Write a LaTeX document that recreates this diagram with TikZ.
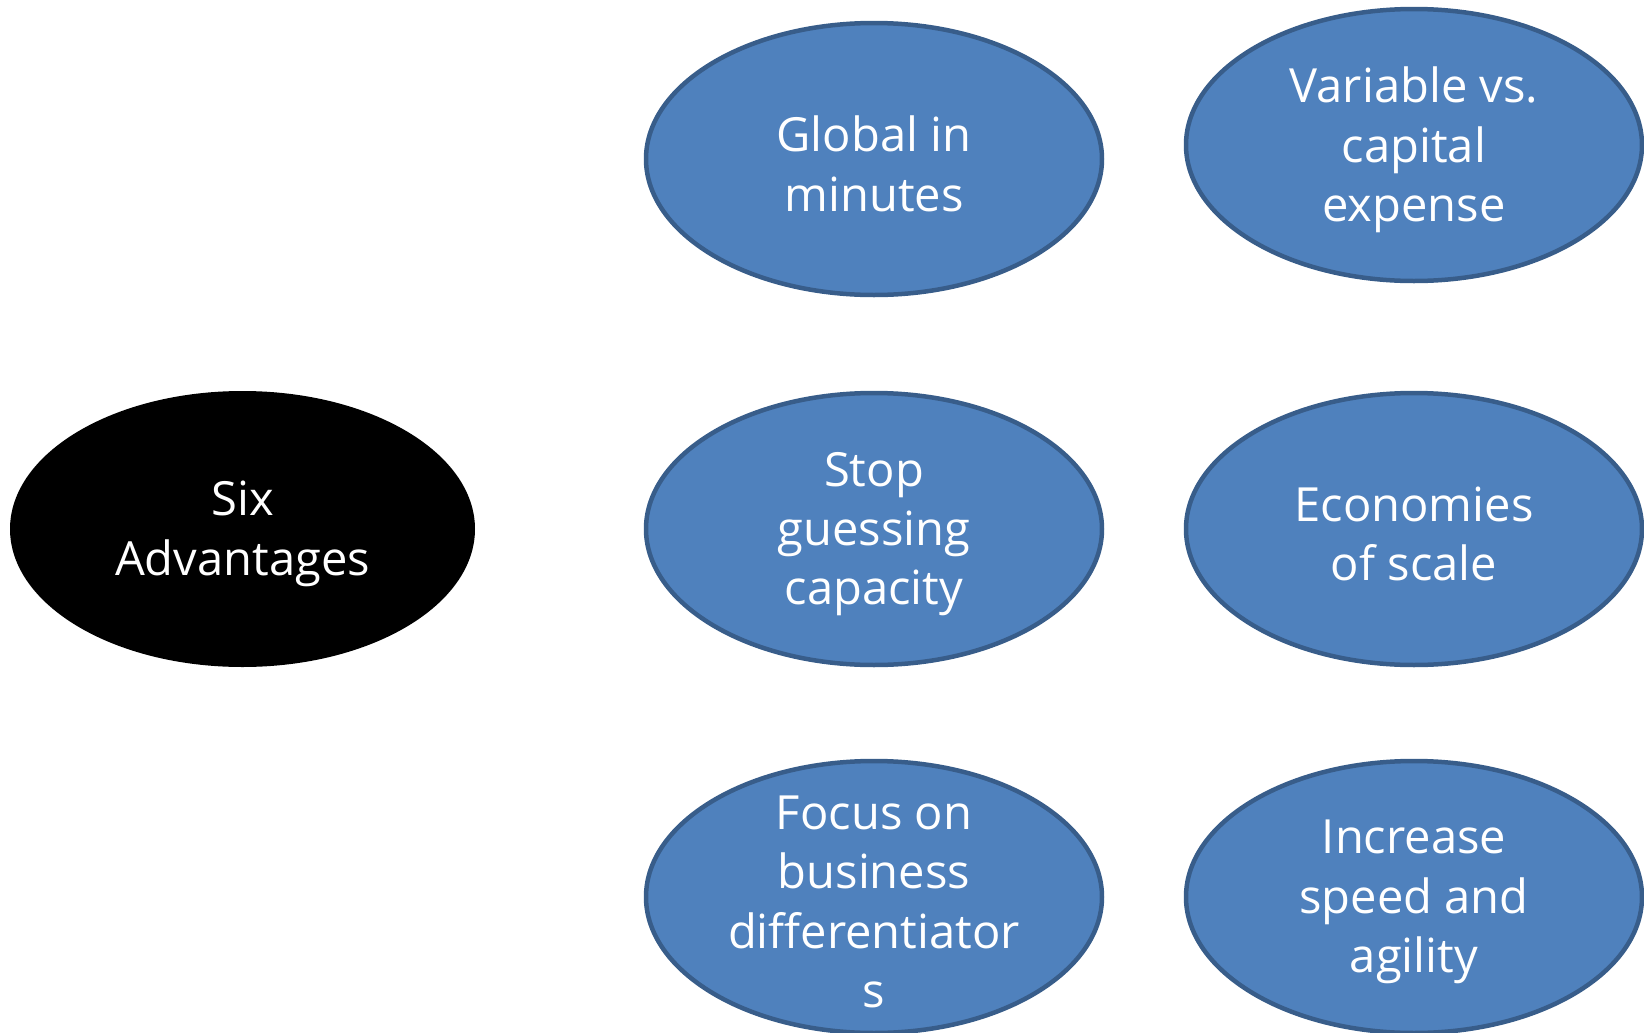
\documentclass[tikz,border=0pt]{standalone}
\usepackage{fontspec}
\setmainfont{Open Sans}
\usepackage{xcolor}
\usetikzlibrary{shapes.geometric}

\definecolor{bubblefill}{HTML}{4F81BD}
\definecolor{bubbleline}{HTML}{385D8A}

\tikzset{
  bubble/.style={ellipse, draw=bubbleline, line width=0.45mm, fill=bubblefill,
                 minimum width=4.56cm, minimum height=2.72cm, inner sep=0pt},
  hub/.style={ellipse, fill=black, minimum width=4.65cm, minimum height=2.76cm, inner sep=0pt},
  bubbletext/.style={text=white, align=center, yshift=-0.05cm,
                     font=\fontsize{13.4}{16.9}\selectfont}
}

\begin{document}
\begin{tikzpicture}
  \useasboundingbox (0,0) rectangle (16.44,-10.33);
  \clip (0,0) rectangle (16.44,-10.33);

  % centre
  \node[hub] (six) at (2.425,-5.29) {};
  \node[bubbletext] (six-txt) at (six) {Six\\Advantages};

  % top row
  \node[bubble] (global) at (8.74,-1.59) {};
  \node[bubbletext] (global-txt) at (global) {Global in\\minutes};
  \node[bubble] (variable) at (14.14,-1.45) {};
  \node[bubbletext] (variable-txt) at (variable) {Variable vs.\\capital\\expense};

  % middle row
  \node[bubble] (stop) at (8.74,-5.29) {};
  \node[bubbletext] (stop-txt) at (stop) {Stop\\guessing\\capacity};
  \node[bubble] (economies) at (14.14,-5.29) {};
  \node[bubbletext] (economies-txt) at (economies) {Economies\\of scale};

  % bottom row
  \node[bubble] (focus) at (8.74,-8.97) {};
  \node[bubbletext] (focus-txt) at (focus) {Focus on\\business\\differentiator\\s};
  \node[bubble] (increase) at (14.14,-8.97) {};
  \node[bubbletext] (increase-txt) at (increase) {Increase\\speed and\\agility};
\end{tikzpicture}
\end{document}
